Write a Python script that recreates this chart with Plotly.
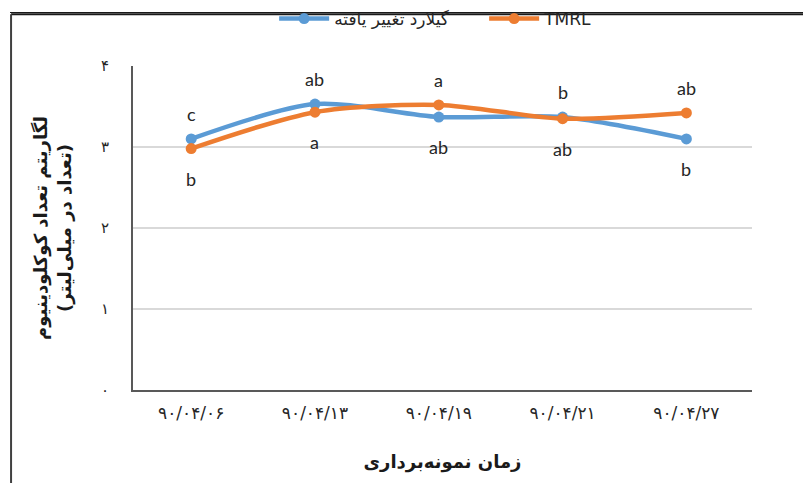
import plotly.graph_objects as go

categories = ["۹۰/۰۴/۰۶", "۹۰/۰۴/۱۳", "۹۰/۰۴/۱۹", "۹۰/۰۴/۲۱", "۹۰/۰۴/۲۷"]
gilard_values = [3.10, 3.53, 3.37, 3.37, 3.10]
tmrl_values = [2.98, 3.43, 3.52, 3.35, 3.42]
gilard_letters = ["c", "ab", "ab", "b", "b"]
tmrl_letters = ["b", "a", "a", "ab", "ab"]
y_tick_values = [0, 1, 2, 3, 4]
y_tick_labels = ["۰", "۱", "۲", "۳", "۴"]

series_names = ["گیلارد تغییر یافته", "TMRL"]
colors = ["#5B9BD5", "#ED7D31"]

FONT = "Lato, DejaVu Sans, sans-serif"
PFONT = "DejaVu Sans, sans-serif"

fig = go.Figure()
for name, vals, col in zip(series_names, [gilard_values, tmrl_values], colors):
    fig.add_trace(go.Scatter(
        x=categories, y=vals, name=name, mode="lines+markers",
        line=dict(color=col, width=4.5, shape="spline", smoothing=0.8),
        marker=dict(color=col, size=11),
    ))

# letters: above for the higher series, below for the lower one
for i, cat in enumerate(categories):
    g, t = gilard_values[i], tmrl_values[i]
    for v, other, lab in [(g, t, gilard_letters[i]), (t, g, tmrl_letters[i])]:
        above = v >= other
        fig.add_annotation(
            x=cat, y=v, text=lab, showarrow=False,
            yshift=25 if above else -30,
            font=dict(family=FONT, size=18, color="#262626"),
        )

# outer frame: top border drawn as an empty annotation box edge, plus shapes
fig.add_shape(type="line", xref="paper", yref="paper",
              x0=-0.197, x1=1.2, y0=1.16, y1=1.16,
              line=dict(color="#1a1a1a", width=2))
fig.add_shape(type="line", xref="paper", yref="paper",
              x0=-0.197, x1=-0.197, y0=1.16, y1=-0.35,
              line=dict(color="#404040", width=2))
fig.add_annotation(xref="paper", yref="paper", x=-0.199, y=1.163,
                   xanchor="left", yanchor="bottom", showarrow=False,
                   text="", width=820, height=1, borderpad=0,
                   bgcolor="#1a1a1a", borderwidth=0)

fig.update_layout(
    width=811, height=483,
    margin=dict(l=125, r=67, t=58, b=101, autoexpand=False),
    paper_bgcolor="white", plot_bgcolor="white",
    font=dict(family=FONT, color="#262626"),
    showlegend=True,
    legend=dict(orientation="h", x=0.228, xanchor="left", y=1.145, yanchor="middle",
                font=dict(family=PFONT, size=17, color="#262626"),
                itemwidth=50, entrywidth=145, entrywidthmode="pixels",
                bgcolor="rgba(0,0,0,0)"),
    xaxis=dict(
        type="category", range=[-0.47, 4.53],
        showline=True, linecolor="#595959", linewidth=2,
        showgrid=False, ticks="", ticklabelstandoff=7,
        tickfont=dict(family=PFONT, size=17, color="#262626"),
        title=dict(text="<b>زمان نمونه\u200cبرداری</b>", standoff=33,
                   font=dict(family=PFONT, size=18, color="#1a1a1a")),
    ),
    yaxis=dict(
        range=[0, 4], tickvals=y_tick_values, ticktext=y_tick_labels,
        showline=True, linecolor="#595959", linewidth=2,
        showgrid=True, gridcolor="#d9d9d9", gridwidth=1.5,
        zeroline=False, ticks="", ticklabelstandoff=19,
        tickfont=dict(family=PFONT, size=15, color="#262626"),
        title=dict(text="<b>لگاریتم تعداد کوکلودینیوم<br>(تعداد در میلی\u200cلیتر)</b>",
                   standoff=25,
                   font=dict(family=PFONT, size=18, color="#1a1a1a")),
    ),
)

fig.write_html("out.html")
